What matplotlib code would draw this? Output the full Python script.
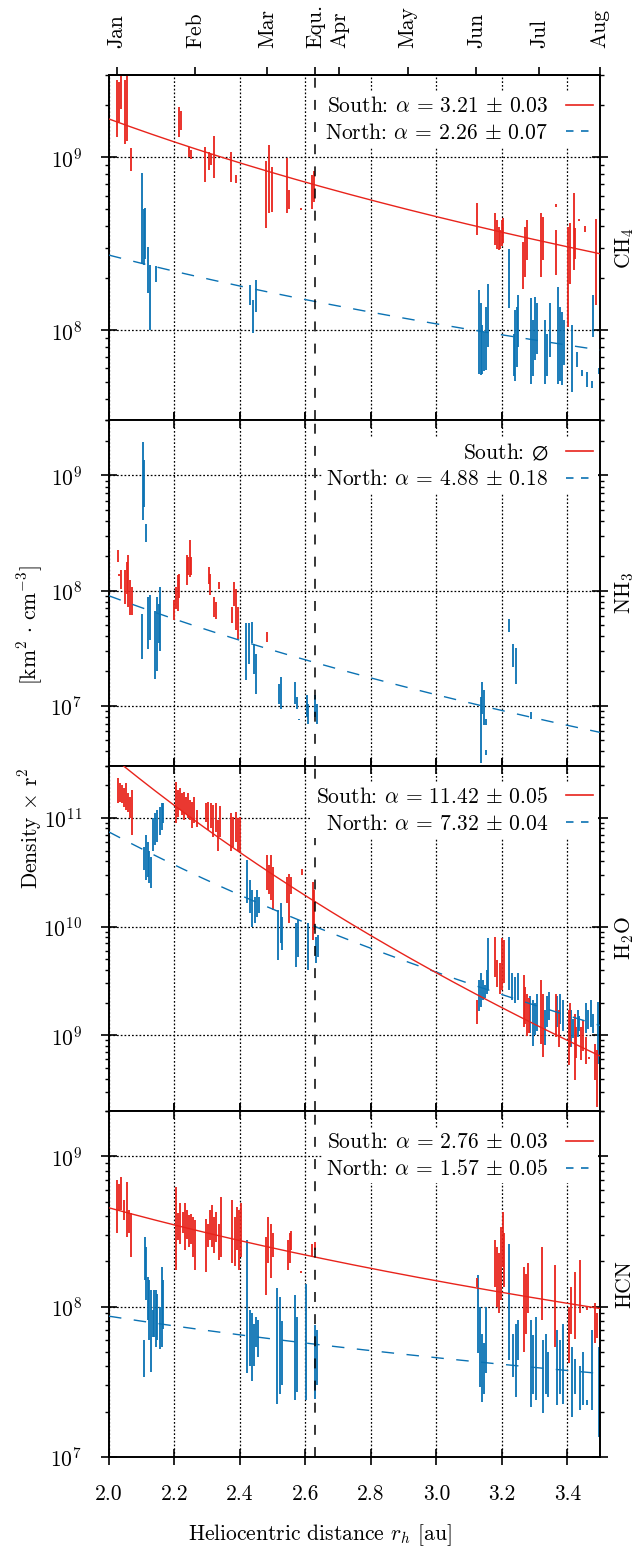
import matplotlib; matplotlib.use("Agg")
import numpy as np
import matplotlib.pyplot as plt
from matplotlib.lines import Line2D
from matplotlib.ticker import LogLocator, NullFormatter, LogFormatterSciNotation

plt.rcParams.update({"font.family": "serif", "font.serif": ["cmr10"], "mathtext.fontset": "cm",
                     "axes.formatter.use_mathtext": True, "font.size": 15.5, "axes.linewidth": 1.4})
RED, BLUE = "#e8231b", "#0a72b3"

# ---- CH4 ----
ch4_s_r = [2.025, 2.030, 2.037, 2.050, 2.056, 2.066, 2.214, 2.219, 2.245, 2.252,
           2.293, 2.307, 2.312, 2.322, 2.374, 2.387, 2.479, 2.489, 2.497, 2.543,
           2.549, 2.587, 2.620, 2.625, 3.124, 3.180, 3.185, 3.190, 3.195, 3.200,
           3.205, 3.266, 3.272, 3.277, 3.320, 3.326, 3.365, 3.367, 3.403, 3.408,
           3.421, 3.424, 3.437, 3.454, 3.488]
ch4_s_lo = [1.31e9, 1.6e9, 1.9e9, 1.2e9, 1.25e9, 8.4e8, 1.31e9, 1.45e9, 1.0e9, 9.8e8,
            7.2e8, 8.5e8, 9.0e8, 7.6e8, 7.2e8, 7.1e8, 3.9e8, 4.75e8, 4.85e8, 4.75e8,
            5.0e8, 4.95e8, 5.0e8, 5.5e8, 3.55e8, 3.1e8, 2.97e8, 2.9e8, 2.97e8, 3.07e8,
            3.18e8, 1.74e8, 2.04e8, 2.54e8, 2.04e8, 2.54e8, 2.08e8, 5.2e8, 1.04e8, 1.86e8,
            2.22e8, 2.6e8, 4.3e8, 3.7e8, 1.4e8]
ch4_s_hi = [2.8e9, 2.75e9, 3.0e9, 2.8e9, 3.0e9, 1.13e9, 1.96e9, 1.85e9, 1.15e9, 1.1e9,
            1.15e9, 1.07e9, 1.05e9, 1.34e9, 1.07e9, 7.9e8, 9.6e8, 1.18e9, 8.8e8, 9.9e8,
            6.5e8, 5.1e8, 7.9e8, 8.3e8, 5.46e8, 4.74e8, 4.34e8, 3.96e8, 3.8e8, 4.34e8,
            4.44e8, 3.24e8, 3.96e8, 4.34e8, 4.74e8, 4.5e8, 3.8e8, 5.4e8, 3.96e8, 4.15e8,
            6.2e8, 3.9e8, 4.4e8, 4.0e8, 4.4e8]
ch4_n_r = [2.102, 2.107, 2.111, 2.119, 2.124, 2.144, 2.430, 2.439, 2.448, 3.130,
           3.135, 3.141, 3.146, 3.151, 3.159, 3.223, 3.236, 3.241, 3.246, 3.251,
           3.289, 3.295, 3.302, 3.309, 3.332, 3.339, 3.346, 3.371, 3.378, 3.384,
           3.390, 3.414, 3.430, 3.446, 3.459, 3.477, 3.480, 3.496]
ch4_n_lo = [2.45e8, 2.4e8, 2.6e8, 1.65e8, 1.0e8, 1.9e8, 1.4e8, 9.6e7, 1.27e8, 5.6e7,
            5.5e7, 5.6e7, 5.8e7, 5.9e7, 8.0e7, 1.34e8, 5.4e7, 5.1e7, 6.1e7, 8.0e7,
            4.9e7, 5.4e7, 6.7e7, 7.3e7, 4.9e7, 5.4e7, 7.0e7, 4.9e7, 5.1e7, 4.8e7,
            6.3e7, 4.4e7, 6.1e7, 5.4e7, 4.7e7, 4.6e7, 9.1e7, 5.6e7]
ch4_n_hi = [8.1e8, 5.0e8, 5.1e8, 3.05e8, 2.4e8, 2.35e8, 1.82e8, 1.5e8, 1.95e8, 1.71e8,
            1.43e8, 1.07e8, 9.8e7, 1.37e8, 1.86e8, 2.97e8, 9.5e7, 1.3e8, 1.37e8, 1.6e8,
            1.53e8, 1.14e8, 1.56e8, 1.43e8, 1.14e8, 9.5e7, 1.43e8, 1.78e8, 1.37e8, 1.28e8,
            1.14e8, 1.07e8, 7.5e7, 5.9e7, 5.7e7, 5.1e7, 1.6e8, 6.0e7]

# ---- NH3 ----
nh3_s_r = [2.027, 2.030, 2.036, 2.050, 2.055, 2.059, 2.065, 2.069, 2.200, 2.205,
           2.210, 2.215, 2.237, 2.242, 2.247, 2.252, 2.304, 2.309, 2.321, 2.327,
           2.336, 2.377, 2.382, 2.387, 2.393, 2.483]
nh3_s_lo = [1.77e8, 1.34e8, 1.04e8, 7.7e7, 9.4e7, 7.2e7, 6.1e7, 6.1e7, 5.5e7, 6.9e7,
            6.7e7, 8.6e7, 1.11e8, 1.36e8, 1.32e8, 1.36e8, 1.15e8, 9.1e7, 5.9e7, 5.7e7,
            1.04e8, 5.2e7, 7.4e7, 4.5e7, 3.8e7, 3.6e7]
nh3_s_hi = [2.27e8, 1.4e8, 1.5e8, 1.5e8, 1.77e8, 2.03e8, 1.23e8, 1.08e8, 8.2e7, 1.08e8,
            1.36e8, 1.4e8, 2.03e8, 1.96e8, 2.74e8, 1.96e8, 1.6e8, 1.4e8, 8.8e7, 8.0e7,
            1.19e8, 7.2e7, 1.19e8, 1.04e8, 7.2e7, 4.4e7]
nh3_n_r = [2.101, 2.104, 2.107, 2.112, 2.119, 2.124, 2.141, 2.146, 2.152, 2.157,
           2.419, 2.427, 2.436, 2.442, 2.448, 2.519, 2.524, 2.567, 2.573, 2.579,
           2.605, 2.609, 2.629, 2.634, 3.136, 3.141, 3.146, 3.151, 3.153, 3.223,
           3.235, 3.242, 3.290]
nh3_n_lo = [2.56e7, 4.1e8, 5.3e8, 2.65e8, 3.1e7, 3.7e7, 1.72e7, 2.0e7, 3.5e7, 3.0e7,
            1.66e7, 2.3e7, 3.5e7, 1.9e7, 1.27e7, 1.04e7, 9.4e6, 1.04e7, 9.4e6, 7.5e6,
            8.0e6, 6.9e6, 8.0e6, 6.9e6, 3.2e6, 8.5e6, 6.8e6, 3.7e6, 6.8e6, 4.4e7,
            2.17e7, 1.55e7, 7.7e6]
nh3_n_hi = [6.3e7, 1.96e9, 1.36e9, 3.8e8, 8.8e7, 9.1e7, 6.7e7, 8.8e7, 7.7e7, 1.08e8,
            5.2e7, 5.2e7, 5.3e7, 3.45e7, 2.83e7, 1.55e7, 1.77e7, 1.6e7, 1.18e7, 7.7e6,
            1.24e7, 1.04e7, 1.24e7, 1.04e7, 1.19e7, 1.6e7, 1.36e7, 4.1e6, 7.7e6, 5.7e7,
            3.46e7, 3.2e7, 8.8e6]

# ---- H2O ----
h2o_s_r = [2.028, 2.035, 2.041, 2.047, 2.053, 2.059, 2.065, 2.071, 2.204, 2.211,
           2.218, 2.224, 2.230, 2.236, 2.242, 2.248, 2.254, 2.260, 2.268, 2.296,
           2.303, 2.311, 2.319, 2.326, 2.333, 2.339, 2.372, 2.380, 2.387, 2.394,
           2.400, 2.482, 2.489, 2.496, 2.502, 2.545, 2.551, 2.556, 2.590, 2.622,
           2.627, 3.124, 3.178, 3.186, 3.193, 3.201, 3.207, 3.267, 3.272, 3.277,
           3.282, 3.319, 3.325, 3.366, 3.374, 3.404, 3.409, 3.423, 3.428, 3.441,
           3.449, 3.457, 3.467, 3.486, 3.490]
h2o_s_lo = [1.36e11, 1.4e11, 1.36e11, 1.26e11, 1.18e11, 1.13e11, 9.9e10, 6.9e10, 8.9e10, 1.02e11,
            1.18e11, 1.06e11, 9.5e10, 1.09e11, 9.9e10, 9.5e10, 8.0e10, 8.9e10, 8.3e10, 9.2e10,
            7.7e10, 8.0e10, 6.7e10, 7.4e10, 4.9e10, 6.7e10, 4.9e10, 5.4e10, 6.0e10, 5.0e10,
            4.7e10, 2.16e10, 2.0e10, 1.75e10, 1.41e10, 1.63e10, 1.07e10, 2.0e10, 3.0e10, 7.5e9,
            9.3e9, 1.28e9, 3.44e9, 2.8e9, 2.4e9, 2.6e9, 3.0e9, 1.19e9, 1.28e9, 9.9e8,
            1.06e9, 8.4e8, 6.3e8, 9.7e8, 7.8e8, 5.3e8, 7.8e8, 3.85e8, 6.2e8, 5.9e8,
            7.2e8, 5.5e8, 6.0e8, 3.85e8, 2.2e8]
h2o_s_hi = [2.3e11, 2.07e11, 2.0e11, 1.86e11, 2.07e11, 1.68e11, 1.56e11, 1.8e11, 2.14e11, 1.8e11,
            1.86e11, 1.68e11, 1.73e11, 1.56e11, 1.68e11, 1.45e11, 1.4e11, 1.56e11, 1.18e11, 1.36e11,
            1.4e11, 1.36e11, 1.31e11, 1.36e11, 9.5e10, 1.27e11, 1.1e11, 1.02e11, 1.13e11, 9.9e10,
            1.02e11, 4.5e10, 3.66e10, 4.5e10, 3.54e10, 2.87e10, 3.07e10, 2.87e10, 3.4e10, 2.57e10,
            2.16e10, 2.1e9, 8.0e9, 4.9e9, 4.6e9, 7.8e9, 7.5e9, 3.56e9, 2.8e9, 2.4e9,
            2.2e9, 3.2e9, 2.4e9, 2.4e9, 1.7e9, 1.7e9, 1.97e9, 1.58e9, 1.2e9, 1.19e9,
            1.37e9, 9.7e8, 6.3e8, 8.4e8, 7.3e8]
h2o_n_r = [2.108, 2.113, 2.118, 2.123, 2.128, 2.135, 2.141, 2.148, 2.155, 2.161,
           2.165, 2.423, 2.430, 2.438, 2.445, 2.453, 2.458, 2.517, 2.524, 2.530,
           2.570, 2.577, 2.608, 2.633, 2.638, 3.129, 3.136, 3.142, 3.148, 3.154,
           3.157, 3.223, 3.232, 3.240, 3.250, 3.287, 3.294, 3.302, 3.309, 3.332,
           3.339, 3.345, 3.370, 3.378, 3.386, 3.412, 3.416, 3.432, 3.437, 3.456,
           3.464, 3.472, 3.480, 3.495]
h2o_n_lo = [3.3e10, 2.67e10, 2.86e10, 2.5e10, 2.24e10, 5.0e10, 5.6e10, 6.0e10, 6.9e10, 7.7e10,
            8.9e10, 1.63e10, 1.32e10, 9.9e9, 1.07e10, 1.23e10, 1.32e10, 4.9e9, 7.0e9, 6.1e9,
            4.25e9, 5.3e9, 3.96e9, 4.6e9, 5.2e9, 1.68e9, 1.82e9, 2.1e9, 2.2e9, 2.4e9,
            2.6e9, 2.6e9, 2.1e9, 2.0e9, 2.1e9, 1.05e9, 7.9e8, 1.0e9, 1.1e9, 8.2e8,
            1.19e9, 1.38e9, 1.19e9, 1.28e9, 1.1e9, 7.8e8, 9.5e8, 9.7e8, 1.1e9, 1.04e9,
            1.15e9, 1.19e9, 1.04e9, 5.5e8]
h2o_n_hi = [5.4e10, 6.9e10, 6.0e10, 5.0e10, 4.4e10, 9.9e10, 1.1e11, 1.18e11, 1.26e11, 1.36e11,
            1.36e11, 4.1e10, 2.67e10, 2.16e10, 1.87e10, 2.16e10, 1.87e10, 1.41e10, 1.63e10, 1.23e10,
            1.07e10, 1.14e10, 1.07e10, 8.0e9, 8.3e9, 3.2e9, 3.7e9, 3.2e9, 2.9e9, 4.0e9,
            7.8e9, 8.0e9, 3.7e9, 3.4e9, 3.7e9, 2.3e9, 2.1e9, 2.0e9, 2.4e9, 1.72e9,
            2.3e9, 2.5e9, 2.3e9, 2.4e9, 2.1e9, 1.7e9, 1.4e9, 1.7e9, 1.5e9, 2.0e9,
            1.7e9, 2.1e9, 1.58e9, 2.03e9]

# ---- HCN ----
hcn_s_r = [2.025, 2.031, 2.036, 2.046, 2.055, 2.061, 2.067, 2.206, 2.211, 2.218,
           2.225, 2.232, 2.238, 2.245, 2.250, 2.256, 2.262, 2.296, 2.301, 2.308,
           2.314, 2.321, 2.328, 2.336, 2.341, 2.377, 2.384, 2.390, 2.397, 2.402,
           2.481, 2.487, 2.494, 2.500, 2.547, 2.552, 2.557, 2.587, 2.621, 2.628,
           3.123, 3.178, 3.186, 3.191, 3.197, 3.203, 3.207, 3.267, 3.273, 3.279,
           3.322, 3.363, 3.404, 3.410, 3.423, 3.438, 3.460, 3.485, 3.490]
hcn_s_lo = [3.07e8, 4.4e8, 4.4e8, 3.77e8, 2.9e8, 3.07e8, 2.14e8, 1.75e8, 2.77e8, 2.63e8,
            3.07e8, 2.37e8, 2.84e8, 2.5e8, 2.63e8, 2.14e8, 1.75e8, 1.7e8, 2.5e8, 2.77e8,
            2.5e8, 2.26e8, 2.7e8, 2.04e8, 2.14e8, 1.94e8, 1.86e8, 2.37e8, 1.75e8, 2.14e8,
            1.19e8, 1.94e8, 1.55e8, 2.14e8, 1.75e8, 1.94e8, 2.37e8, 1.68e8, 2.14e8, 2.37e8,
            1.35e8, 1.35e8, 9.95e7, 9.0e7, 1.1e8, 1.84e8, 1.35e8, 5.0e7, 6.6e7, 9.0e7,
            8.1e7, 5.4e7, 4.2e7, 6.6e7, 6.1e7, 9.0e7, 9.5e7, 5.7e7, 6.2e7]
hcn_s_hi = [6.95e8, 6.6e8, 7.3e8, 5.1e8, 6.8e8, 4.4e8, 4.2e8, 6.3e8, 4.2e8, 4.87e8,
            4.28e8, 4.87e8, 4.4e8, 4.1e8, 4.17e8, 3.96e8, 3.77e8, 3.86e8, 3.57e8, 4.4e8,
            4.74e8, 3.96e8, 4.28e8, 3.57e8, 5.4e8, 5.1e8, 3.96e8, 4.6e8, 4.4e8, 4.87e8,
            2.9e8, 3.96e8, 3.57e8, 3.07e8, 2.77e8, 3.07e8, 3.2e8, 1.72e8, 2.63e8, 2.7e8,
            1.54e8, 2.77e8, 2.5e8, 2.26e8, 3.4e8, 4.28e8, 3.07e8, 1.84e8, 1.66e8, 1.94e8,
            2.5e8, 1.89e8, 9.95e7, 1.35e8, 1.7e8, 2.04e8, 1.0e8, 1.05e8, 9.0e7]
hcn_n_r = [2.106, 2.109, 2.113, 2.118, 2.123, 2.128, 2.133, 2.138, 2.143, 2.148,
           2.155, 2.161, 2.165, 2.423, 2.430, 2.436, 2.443, 2.450, 2.456, 2.514,
           2.522, 2.529, 2.567, 2.574, 2.602, 2.629, 2.636, 3.128, 3.134, 3.141,
           3.147, 3.153, 3.223, 3.234, 3.242, 3.251, 3.288, 3.294, 3.303, 3.325,
           3.334, 3.342, 3.369, 3.378, 3.388, 3.413, 3.425, 3.438, 3.448, 3.460,
           3.475, 3.498]
hcn_n_lo = [3.4e7, 1.5e8, 1.1e8, 8.1e7, 6.0e7, 3.66e7, 6.3e7, 6.3e7, 5.4e7, 6.0e7,
            5.2e7, 5.4e7, 7.1e7, 3.6e7, 4.0e7, 3.2e7, 4.0e7, 5.4e7, 4.6e7, 2.25e7,
            2.63e7, 3.0e7, 2.38e7, 2.7e7, 2.38e7, 2.44e7, 3.0e7, 4.9e7, 2.9e7, 2.3e7,
            2.6e7, 3.6e7, 4.4e7, 3.4e7, 2.5e7, 4.4e7, 2.14e7, 2.6e7, 2.38e7, 1.94e7,
            2.63e7, 2.5e7, 2.2e7, 2.6e7, 2.26e7, 1.84e7, 2.6e7, 2.04e7, 2.2e7, 2.2e7,
            2.04e7, 1.35e7]
hcn_n_hi = [6.0e7, 2.9e8, 2.5e8, 1.58e8, 1.5e8, 1.29e8, 9.5e7, 1.29e8, 1.29e8, 1.22e8,
            9.95e7, 1.84e8, 1.5e8, 2.77e8, 9.5e7, 9.0e7, 7.7e7, 8.5e7, 8.1e7, 1.32e8,
            1.16e8, 8.0e7, 1.19e8, 8.5e7, 1.42e8, 7.5e7, 7.0e7, 1.62e8, 9.95e7, 6.6e7,
            5.7e7, 9.95e7, 2.63e8, 6.6e7, 7.7e7, 8.1e7, 8.1e7, 6.5e7, 8.5e7, 6.0e7,
            6.6e7, 5.0e7, 7.0e7, 6.0e7, 7.7e7, 5.4e7, 4.5e7, 4.0e7, 5.0e7, 2.4e7,
            7.0e7, 5.4e7]

# power-law fits n = A (r/2)^-alpha, alpha from the legend
species = ["CH$_4$", "NH$_3$", "H$_2$O", "HCN"]
alpha_s = [3.21, None, 11.42, 2.76]
amp_s = [1.67e9, None, 3.85e11, 4.55e8]
lab_s = [r"South: $\alpha$ = 3.21 $\pm$ 0.03", r"South: $\varnothing$",
         r"South: $\alpha$ = 11.42 $\pm$ 0.05", r"South: $\alpha$ = 2.76 $\pm$ 0.03"]
alpha_n = [2.26, 4.88, 7.32, 1.57]
amp_n = [2.72e8, 9.0e7, 7.4e10, 8.63e7]
lab_n = [r"North: $\alpha$ = 2.26 $\pm$ 0.07", r"North: $\alpha$ = 4.88 $\pm$ 0.18",
         r"North: $\alpha$ = 7.32 $\pm$ 0.04", r"North: $\alpha$ = 1.57 $\pm$ 0.05"]
ylims = [(3e7, 3e9), (3e6, 3e9), (2e8, 3e11), (1e7, 2e9)]

months = ["Jan", "Feb", "Mar", "Equ.", "Apr", "May", "Jun", "Jul", "Aug"]
month_r = [2.024, 2.264, 2.484, 2.630, 2.704, 2.912, 3.122, 3.314, 3.500]
equinox_r = 2.630

south = [(ch4_s_r, ch4_s_lo, ch4_s_hi), (nh3_s_r, nh3_s_lo, nh3_s_hi),
         (h2o_s_r, h2o_s_lo, h2o_s_hi), (hcn_s_r, hcn_s_lo, hcn_s_hi)]
north = [(ch4_n_r, ch4_n_lo, ch4_n_hi), (nh3_n_r, nh3_n_lo, nh3_n_hi),
         (h2o_n_r, h2o_n_lo, h2o_n_hi), (hcn_n_r, hcn_n_lo, hcn_n_hi)]

fig, axes = plt.subplots(4, 1, sharex=True, figsize=(6.4, 15.51), dpi=100)
fig.subplots_adjust(left=0.1703, right=0.9375, top=0.9516, bottom=0.0608, hspace=0)
rr = np.linspace(2.0, 3.5, 300)
for i, ax in enumerate(axes):
    ax.set_yscale("log")
    ax.set_xlim(2.0, 3.5)
    ax.set_ylim(*ylims[i])
    ax.grid(True, which="major", ls=(0, (1.4, 1.6)), color="k", lw=0.9)
    ax.set_axisbelow(True)
    nr, nlo, nhi = north[i]
    ax.vlines(nr, nlo, nhi, color=BLUE, lw=1.3, zorder=2)
    sr, slo, shi = south[i]
    ax.vlines(sr, slo, shi, color=RED, lw=1.3, zorder=2.2)
    ax.plot(rr, amp_n[i] * (rr / 2.0) ** (-alpha_n[i]), color=BLUE, lw=1.0, ls=(0, (9, 9)), zorder=3)
    if alpha_s[i] is not None:
        ax.plot(rr, amp_s[i] * (rr / 2.0) ** (-alpha_s[i]), color=RED, lw=1.0, zorder=3)
    ax.axvline(equinox_r, color="k", lw=1.1, ls=(0, (6.5, 8)), zorder=4)
    ax.yaxis.set_major_locator(LogLocator(base=10, numticks=10))
    ax.yaxis.set_major_formatter(LogFormatterSciNotation())
    ax.yaxis.set_minor_locator(LogLocator(base=10, subs=np.arange(2, 10), numticks=20))
    ax.yaxis.set_minor_formatter(NullFormatter())
    ax.tick_params(which="major", direction="inout", length=11, width=1.2,
                   top=(i > 0), right=True)
    ax.tick_params(axis="y", which="major", pad=13.9)
    ax.tick_params(axis="x", which="major", pad=14.5)
    ax.tick_params(which="minor", direction="out", length=3, width=1.0, right=True)
    handles = [Line2D([], [], color=RED, lw=1.2), Line2D([], [], color=BLUE, lw=1.2, ls=(0, (4.5, 4.5)))]
    leg = ax.legend(handles, [lab_s[i], lab_n[i]], loc="upper right", bbox_to_anchor=(1.0, 0.9586),
                    markerfirst=False, frameon=True, fancybox=False, framealpha=1, edgecolor="none",
                    handlelength=1.25, handletextpad=0.84, labelspacing=0.32,
                    borderpad=0.2, borderaxespad=0.11)
    leg.set_zorder(5)
    ax.text(1.051, 0.5, species[i], transform=ax.transAxes, rotation=90, ha="center", va="center")

axes[-1].set_xticks(np.arange(2.0, 3.41, 0.2))
axes[-1].set_xticklabels([f"{v:.1f}" for v in np.arange(2.0, 3.41, 0.2)])

top = axes[0].secondary_xaxis("top")
top.set_xticks(month_r)
top.set_xticklabels(months, rotation=90)
top.tick_params(direction="out", length=5.8, width=1.2, pad=13.6)

fig.text(0.5, 1 - 1535 / 1551, r"Heliocentric distance $r_h$ [au]", ha="center", va="center")
fig.text(0.047, 1 - 828 / 1551, r"Density $\times$ r$^2$", rotation=90, ha="center", va="center")
fig.text(0.047, 1 - 625 / 1551, r"[km$^2$ $\cdot$ cm$^{-3}$]", rotation=90, ha="center", va="center")

fig.savefig("out.png", dpi=100)
